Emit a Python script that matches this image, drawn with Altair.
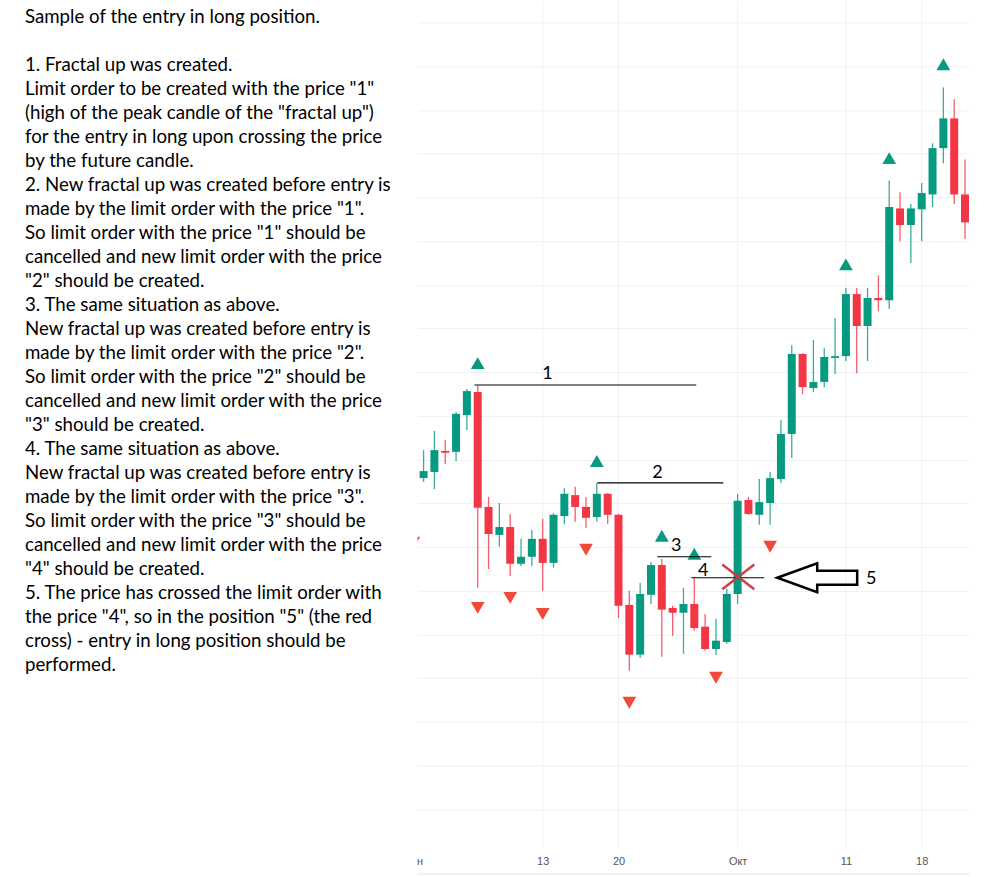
import altair as alt
import pandas as pd

GREEN = "#089981"
RED = "#f23645"
RED_TRI = "#f04a3a"
GRID = "#eef0f4"
FONT = "Lato"

# ---------------- data ----------------
TEXT_LINES = [
    "Sample of the entry in long position.",
    "",
    "1. Fractal up was created.",
    "Limit order to be created with the price \"1\"",
    "(high of the peak candle of the \"fractal up\")",
    "for the entry in long upon crossing the price",
    "by the future candle.",
    "2. New fractal up was created before entry is",
    "made by the limit order with the price \"1\".",
    "So limit order with the price \"1\" should be",
    "cancelled and new limit order with the price",
    "\"2\" should be created.",
    "3. The same situation as above.",
    "New fractal up was created before entry is",
    "made by the limit order with the price \"2\".",
    "So limit order with the price \"2\" should be",
    "cancelled and new limit order with the price",
    "\"3\" should be created.",
    "4. The same situation as above.",
    "New fractal up was created before entry is",
    "made by the limit order with the price \"3\".",
    "So limit order with the price \"3\" should be",
    "cancelled and new limit order with the price",
    "\"4\" should be created.",
    "5. The price has crossed the limit order with",
    "the price \"4\", so in the position \"5\" (the red",
    "cross) - entry in long position should be",
    "performed.",
]

OPEN = [65.8, 67.2, 72.0, 71.8, 80.2, 85.5, 59.2, 52.8, 54.6, 46.2, 47.8, 51.9, 46.4, 57.1, 61.9,
        59.2, 56.9, 62.2, 57.4, 36.8, 25.4, 39.1, 45.9, 36.1, 35.0, 37.0, 31.8, 26.7, 28.3, 39.3,
        60.8, 57.4, 60.1, 65.6, 75.9, 94.2, 86.4, 87.8, 93.3, 93.7, 107.9, 100.6, 107.0, 106.5,
        127.5, 123.7, 127.3, 130.7, 141.3, 148.1, 130.7]
HIGH = [72.2, 76.6, 74.5, 80.9, 86.2, 86.9, 61.5, 60.1, 57.6, 51.9, 53.9, 56.5, 57.8, 63.5, 63.8,
        61.5, 64.7, 62.4, 57.6, 40.0, 41.8, 46.6, 47.3, 36.6, 40.7, 43.0, 34.7, 33.6, 40.5, 62.2,
        61.5, 65.6, 67.2, 79.1, 96.2, 94.4, 97.4, 95.5, 102.4, 109.3, 109.3, 109.3, 112.2, 133.9,
        131.2, 128.5, 133.3, 142.4, 155.2, 152.5, 138.7]
LOW = [64.9, 63.3, 69.0, 69.7, 76.8, 40.7, 45.0, 50.1, 43.4, 45.7, 45.7, 40.0, 45.3, 55.3, 55.8,
       54.4, 55.8, 55.3, 33.8, 21.7, 24.7, 37.0, 24.9, 29.7, 25.6, 30.9, 26.3, 25.4, 27.9, 37.0,
       57.4, 55.1, 55.1, 64.7, 70.4, 85.0, 85.5, 86.6, 89.6, 92.6, 89.8, 92.6, 104.0, 104.5,
       120.0, 115.0, 120.0, 127.8, 137.8, 128.5, 120.5]
CLOSE = [67.4, 72.2, 71.6, 80.5, 85.7, 59.0, 53.0, 54.6, 46.2, 47.8, 51.9, 46.4, 57.4, 62.2, 59.2,
         56.7, 62.2, 57.4, 36.6, 25.4, 39.3, 45.9, 35.7, 35.0, 37.0, 31.5, 26.7, 28.6, 39.3, 60.6,
         57.6, 60.3, 65.8, 75.9, 94.2, 86.6, 87.8, 93.5, 93.7, 107.9, 100.6, 107.0, 106.5, 127.8,
         123.7, 127.5, 131.0, 141.3, 148.1, 130.7, 124.3]

FRACTAL_UP_IDX = [5, 16, 22, 25, 39, 43, 48]
FRACTAL_UP_PRICE = [92.1, 69.7, 52.6, 48.5, 114.7, 139.0, 160.5]
FRACTAL_DOWN_IDX = [-0.95, 5, 8, 11, 15, 19, 27, 32]
FRACTAL_DOWN_PRICE = [51.0, 36.1, 38.4, 34.7, 49.4, 14.4, 20.1, 50.1]

ORDER_NAMES = ["1", "2", "3", "4"]
ORDER_PRICE = [87.1, 64.7, 47.8, 43.0]
ORDER_START = [4.70, 16.05, 21.59, 24.72]
ORDER_END = [25.18, 27.68, 26.57, 31.46]

NOTE_TEXT = ["1", "2", "3", "4", "5"]
NOTE_IDX = [11.44, 21.59, 23.34, 25.83, 41.33]
NOTE_PRICE = [89.6, 67.0, 50.3, 44.6, 42.7]

ENTRY_IDX = [29.06]
ENTRY_PRICE = [43.2]
ARROW_IDX = [36.35]
ARROW_PRICE = [43.0]

TICK_IDX = [-0.37, 11, 18, 29, 39, 46]
TICK_LABELS = ["н", "13", "20", "Окт", "11", "18"]
GRID_PRICES = [-10, 0, 10, 20, 30, 40, 50, 60, 70, 80, 90, 100, 110, 120, 130, 140, 150, 160, 170]

X_DOMAIN = [-0.5535, 50.369]
Y_DOMAIN = [-24.686, 174.857]
VGRID_BOTTOM = -18.74

# ---------------- tables ----------------
candles = pd.DataFrame({
    "idx": list(range(len(OPEN))),
    "open": OPEN, "high": HIGH, "low": LOW, "close": CLOSE,
})
candles["dir"] = ["up" if c >= o else "down" for o, c in zip(OPEN, CLOSE)]

up_df = pd.DataFrame({"idx": FRACTAL_UP_IDX, "price": FRACTAL_UP_PRICE})
down_df = pd.DataFrame({"idx": FRACTAL_DOWN_IDX, "price": FRACTAL_DOWN_PRICE})
orders = pd.DataFrame({"name": ORDER_NAMES, "price": ORDER_PRICE,
                       "start": ORDER_START, "end": ORDER_END})
notes = pd.DataFrame({"text": NOTE_TEXT, "idx": NOTE_IDX, "price": NOTE_PRICE})
entry = pd.DataFrame({"idx": ENTRY_IDX, "price": ENTRY_PRICE})
arrow = pd.DataFrame({"idx": ARROW_IDX, "price": ARROW_PRICE})
vgrid = pd.DataFrame({"idx": TICK_IDX[1:], "bottom": VGRID_BOTTOM, "top": Y_DOMAIN[1]})
text_df = pd.DataFrame({"line": list(range(len(TEXT_LINES))), "text": TEXT_LINES})

# ---------------- scales / axes ----------------
label_expr = "''"
for v, lab in reversed(list(zip(TICK_IDX, TICK_LABELS))):
    label_expr = f"abs(datum.value - ({v})) < 0.01 ? '{lab}' : {label_expr}"

xs = alt.Scale(domain=X_DOMAIN, nice=False, zero=False, padding=0)
ys = alt.Scale(domain=Y_DOMAIN, nice=False, zero=False, padding=0)
x_axis = alt.Axis(values=TICK_IDX, labelExpr=label_expr, grid=False, ticks=False, tickSize=0,
                  domain=True, domainColor="#e0e3eb", domainWidth=1, title=None,
                  labelFont="Liberation Sans", labelFontSize=11, labelColor="#555555",
                  labelPadding=-12, labelBaseline="middle", labelOverlap=False, labelFlush=False)
y_axis = alt.Axis(values=GRID_PRICES, grid=True, gridColor=GRID, gridWidth=1, labels=False,
                  ticks=False, domain=False, title=None)

X = lambda f: alt.X(f"{f}:Q", scale=xs, axis=x_axis)
Y = lambda f: alt.Y(f"{f}:Q", scale=ys, axis=y_axis)
color = alt.Color("dir:N", scale=alt.Scale(domain=["up", "down"], range=[GREEN, RED]), legend=None)

base_vgrid = alt.Chart(vgrid).mark_rule(color=GRID, strokeWidth=1).encode(
    x=X("idx"), y=Y("bottom"), y2="top")

wicks = alt.Chart(candles).mark_rule(strokeWidth=1.3, opacity=0.8).encode(
    x=X("idx"), y=Y("low"), y2="high", color=color)

bodies = alt.Chart(candles).mark_bar(size=8).encode(
    x=X("idx"), y=Y("open"), y2="close", color=color)

ups = alt.Chart(up_df).mark_point(shape="triangle-up", size=190, filled=True,
                                   color=GREEN, opacity=1).encode(x=X("idx"), y=Y("price"))
downs = alt.Chart(down_df).mark_point(shape="triangle-down", size=190, filled=True,
                                       color=RED_TRI, opacity=1, clip=True).encode(
    x=X("idx"), y=Y("price"))

order_lines = alt.Chart(orders).mark_rule(color="black", strokeWidth=1.2).encode(
    x=X("start"), x2="end", y=Y("price"))

note_text = alt.Chart(notes).mark_text(font=FONT, fontSize=18, color="black",
                                       baseline="middle", align="center").encode(
    x=X("idx"), y=Y("price"), text="text:N")

cross = alt.Chart(entry).mark_point(
    shape="M -1 -0.78 L 1 0.78 M -1 0.78 L 1 -0.78", size=1024, filled=False,
    color="#c83a40", strokeWidth=2.5, opacity=0.95).encode(x=X("idx"), y=Y("price"))

arrow_mark = alt.Chart(arrow).mark_point(
    shape="M -1 0 L 0 -0.36 L 0 -0.175 L 1 -0.175 L 1 0.175 L 0 0.175 L 0 0.36 Z",
    size=6400, filled=False, color="black", strokeWidth=2.5, opacity=1).encode(
    x=X("idx"), y=Y("price"))

candle_chart = alt.layer(
    base_vgrid, wicks, bodies, ups, downs, order_lines, note_text, cross, arrow_mark
).properties(width=552, height=873)

text_chart = alt.Chart(text_df).mark_text(
    font=FONT, fontSize=18.7, color="black", align="left", baseline="middle"
).encode(
    x=alt.value(25),
    y=alt.Y("line:Q", scale=alt.Scale(domain=[-0.6667, 35.708], reverse=True, nice=False,
                                      zero=False), axis=None),
    text="text:N",
).properties(width=418, height=873)

chart = alt.hconcat(text_chart, candle_chart, spacing=0, bounds="flush").properties(
    padding={"left": 0, "top": 0, "right": 18, "bottom": 4},
    background="white",
).configure_view(stroke=None)

chart.save("out.html", embed_options={"renderer": "svg", "actions": False})
